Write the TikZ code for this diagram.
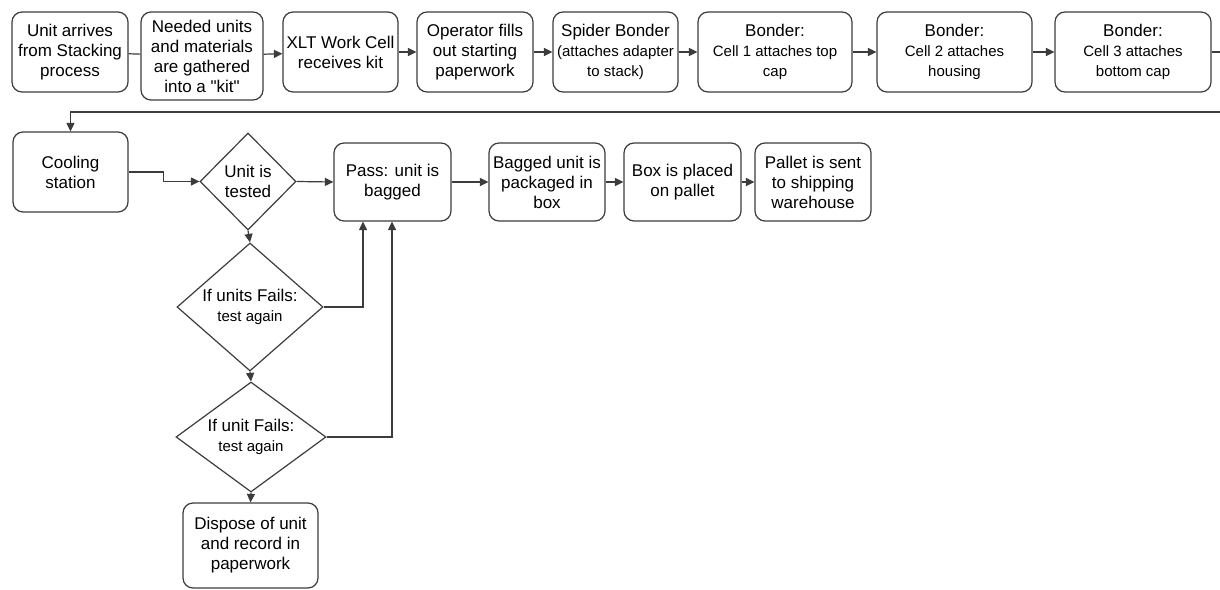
\documentclass[tikz,border=0pt]{standalone}
\usepackage{fontspec}
\setmainfont{Liberation Sans}[Ligatures=TeXOff]
\usetikzlibrary{arrows.meta,shapes.geometric}
\definecolor{edge}{RGB}{60,60,60}
\newcommand{\mainsz}{\fontsize{17}{20}\selectfont}
\newcommand{\smallsz}{\fontsize{15}{20}\selectfont}
\begin{document}
\begin{tikzpicture}[x=1pt,y=-1pt,
  stepbox/.style={draw=edge, line width=1.2pt, rounded corners=10pt, fill=white,
    align=center, inner sep=0pt, font=\mainsz},
  decision/.style={draw=edge, line width=1.2pt, diamond, inner sep=0pt, fill=white},
  link/.style={draw=edge, line width=1.2pt},
  arr/.style={link, -{Triangle[length=8.5pt,width=8pt]}}]
\clip (0,0) rectangle (1220,589);
\fill[white] (0,0) rectangle (1220,589);

% first row
\node[stepbox, minimum width=116, minimum height=80] (b1) at (70,52)
  {Unit arrives\\from Stacking\\process};
\node[stepbox, minimum width=122, minimum height=88] (b2) at (202,56)
  {Needed units\\and materials\\are gathered\\into a "kit"};
\node[stepbox, minimum width=115, minimum height=80] (b3) at (340.5,52)
  {XLT Work Cell\\receives kit};
\node[stepbox, minimum width=116, minimum height=80] (b4) at (475,52)
  {Operator fills\\out starting\\paperwork};
\node[stepbox, minimum width=125, minimum height=80] (b5) at (615.5,52)
  {Spider Bonder\\{\smallsz(attaches adapter}\\{\smallsz to stack)}};
\node[stepbox, minimum width=154, minimum height=80] (b6) at (775,52)
  {Bonder:\\{\smallsz Cell 1 attaches top}\\{\smallsz cap}};
\node[stepbox, minimum width=155, minimum height=80] (b7) at (954.5,52)
  {Bonder:\\{\smallsz Cell 2 attaches}\\{\smallsz housing}};
\node[stepbox, minimum width=156, minimum height=80] (b8) at (1133,52)
  {Bonder:\\{\smallsz Cell 3 attaches}\\{\smallsz bottom cap}};

% second row
\node[stepbox, minimum width=115, minimum height=80] (cool) at (70.5,172)
  {Cooling\\station};
\node[decision, minimum width=96, minimum height=97,
  label={[font=\mainsz, align=center]center:Unit is\\tested}] (test) at (248,181.5) {};
\node[stepbox, minimum width=117, minimum height=78] (pass) at (392.5,182)
  {Pass: unit is\\bagged};
\node[stepbox, minimum width=116, minimum height=78] (bag) at (547,182)
  {Bagged unit is\\packaged in\\box};
\node[stepbox, minimum width=117, minimum height=78] (pal) at (682.5,182)
  {Box is placed\\on pallet};
\node[stepbox, minimum width=116, minimum height=78] (ship) at (813,182)
  {Pallet is sent\\to shipping\\warehouse};

% retest branch
\node[decision, minimum width=146, minimum height=128,
  label={[font=\mainsz, align=center]center:If units Fails:\\{\smallsz test again}}] (d1) at (250,307) {};
\node[decision, minimum width=150, minimum height=110,
  label={[font=\mainsz, align=center]center:If unit Fails:\\{\smallsz test again}}] (d2) at (251,437) {};
\node[stepbox, minimum width=135, minimum height=85] (disp) at (250.5,545.5)
  {Dispose of unit\\and record in\\paperwork};

% connectors, first row
\draw[link] (b1) -- (b2);
\draw[arr] (b2) -- (b3);
\draw[arr] (b3) -- (b4);
\draw[arr] (b4) -- (b5);
\draw[arr] (b5) -- (b6);
\draw[arr] (b6) -- (b7);
\draw[arr] (b7) -- (b8);

% wrap-around to the second row
\coordinate (wrapR) at (1230,112);
\coordinate (wrapL) at (70.5,112);
\draw[arr] (b8.east) -| (wrapR) -- (wrapL) -- (cool.north);

% connectors, second row
\draw[arr] (cool.east) -- ++(35,0) |- (test.west);
\draw[arr] (test.east) -- (pass.west);
\draw[arr] (pass) -- (bag);
\draw[arr] (bag) -- (pal);
\draw[arr] (pal) -- (ship);

% retest connectors
\draw[arr] (test.south) -- (d1.north);
\draw[arr] (d1.south) -- (d2.north);
\draw[arr] (d2.south) -- (disp.north);
\draw[arr] (d1.east) -| ([xshift=-29.5pt]pass.south);
\draw[arr] (d2.east) -| ([xshift=-0.5pt]pass.south);
\end{tikzpicture}
\end{document}
